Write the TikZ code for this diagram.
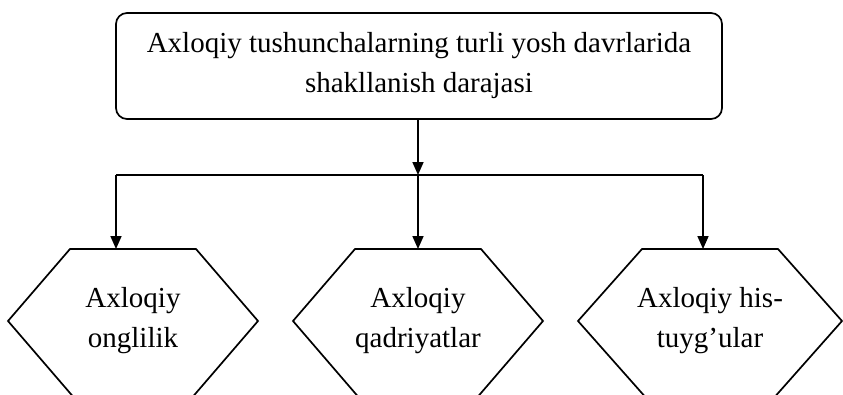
\documentclass[tikz,border=0pt]{standalone}
\usepackage{fontspec}
\setmainfont{Liberation Serif}
\usetikzlibrary{arrows.meta,calc}
\begin{document}
\begin{tikzpicture}[x=1pt,y=-1pt,
  line width=1.7pt,
  topbox/.style={draw, rounded corners=11pt, minimum width=606pt, minimum height=106pt,
    align=center, font=\fontsize{29}{40}\selectfont, inner sep=0pt},
  hexlabel/.style={align=center, font=\fontsize{29}{40}\selectfont, inner sep=0pt},
  hexline/.style={line width=1.7pt, line join=miter},
  arr/.style={-{Triangle[length=13pt,width=11pt]}}
]
\useasboundingbox (0,0) rectangle (843,394);
\fill[white] (0,0) rectangle (843,394);

\node[topbox] (top) at (419,66) {Axloqiy tushunchalarning turli yosh davrlarida\\shakllanish darajasi};

\node[hexlabel] (h1) at (133,321) {Axloqiy\\onglilik};
\node[hexlabel] (h2) at (418,321) {Axloqiy\\qadriyatlar};
\node[hexlabel] (h3) at (710,321) {Axloqiy his-\\tuyg'ular};

% \h = node, \t = half width of top edge, \v = half width at side vertices
\foreach \h/\t/\v in {h1/63/125, h2/63/125, h3/68/132}{
  \draw[hexline] ($(\h)+(\t-6,79)$) ++(-2*\t+12,0) -- ($(\h)+(-\v,0)$) -- ($(\h)+(-\t,-72)$)
    -- ($(\h)+(\t,-72)$) -- ($(\h)+(\v,0)$) -- ($(\h)+(\t-6,79)$);
}

\coordinate (b1) at (116,175);
\coordinate (b2) at (418,175);
\coordinate (b3) at (703,175);
\coordinate (t1) at ($(h1)+(-17,-72)$);
\coordinate (t2) at ($(h2)+(0,-72)$);
\coordinate (t3) at ($(h3)+(-7,-72)$);

\draw[arr] (top.south -| b2) -- (b2);
\draw (b1) -- (b3);
\draw[arr] (b1) -- (t1);
\draw[arr] (b2) -- (t2);
\draw[arr] (b3) -- (t3);
\end{tikzpicture}
\end{document}
